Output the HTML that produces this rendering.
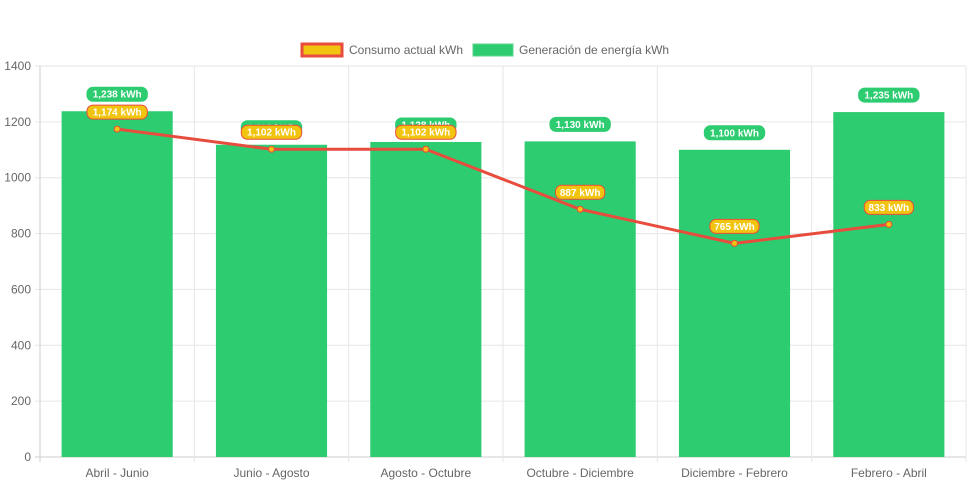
<!DOCTYPE html>
<html><head><meta charset="utf-8"><style>
body{margin:0;background:#fff;font-family:"Liberation Sans",Arial,sans-serif;}
svg{display:block}
</style></head><body>
<svg id="chart" width="971" height="485" xmlns="http://www.w3.org/2000/svg">
<g>
<g>
<rect x="302" y="44" width="40" height="12" fill="#f1c40f" stroke="#e74c3c" stroke-width="3"/>
<text x="349" y="54" font-size="12" fill="#666">Consumo actual kWh</text></g>
<g>
<rect x="473" y="44" width="40" height="12" fill="#2ecc71" stroke="#58d68d" stroke-width="1"/>
<text x="519" y="54" font-size="12" fill="#666">Generación de energía kWh</text></g>
</g>
<g id="grid"></g><g id="bars"></g><g id="line"></g><g id="labels"></g>
</svg>
<script>
const categories=["Abril - Junio","Junio - Agosto","Agosto - Octubre","Octubre - Diciembre","Diciembre - Febrero","Febrero - Abril"];
const generacion=[1238,1118,1128,1130,1100,1235];
const consumo=[1174,1102,1102,887,765,833];
const yTicks=[0,200,400,600,800,1000,1200,1400];
const NS="http://www.w3.org/2000/svg";
const L=40,R=966,T=66,B=457,YMAX=1400;
const cw=(R-L)/categories.length;
const y=v=>B-(v/YMAX)*(B-T);
const xc=i=>L+cw*(i+0.5);
function mk(t,a,p){const e=document.createElementNS(NS,t);for(const k in a)e.setAttribute(k,a[k]);p.appendChild(e);return e;}
const grid=document.getElementById('grid');
yTicks.forEach(v=>{
 mk('line',{x1:L-5,x2:R,y1:y(v),y2:y(v),stroke:v===0?'#ccc':'#e6e6e6','stroke-width':1},grid);
 const t=mk('text',{x:L-9,y:y(v)+4,'text-anchor':'end','font-size':12,fill:'#666'},grid);t.textContent=v;
 
 
});
for(let i=0;i<=categories.length;i++){
 mk('line',{x1:L+cw*i,x2:L+cw*i,y1:T,y2:B+5,stroke:i===0?'#ccc':'#e6e6e6'},grid);
}
categories.forEach((c,i)=>{
 const t=mk('text',{x:xc(i),y:B+20,'text-anchor':'middle','font-size':12,fill:'#666'},grid);t.textContent=c;
 
 
});
const bars=document.getElementById('bars');
const bw=cw*0.72;
generacion.forEach((v,i)=>{
 const r=mk('rect',{x:xc(i)-bw/2,y:y(v),width:bw,height:B-y(v),fill:'#2ecc71'},bars);
 
 
});
const line=document.getElementById('line');
const p=mk('polyline',{points:consumo.map((v,i)=>xc(i)+','+y(v)).join(' '),fill:'none',stroke:'#e74c3c','stroke-width':3},line);


consumo.forEach((v,i)=>{
 const c=mk('circle',{cx:xc(i),cy:y(v),r:3,fill:'#f1c40f',stroke:'#e74c3c','stroke-width':1},line);
 
 
});
const labels=document.getElementById('labels');
function lab(cx,cy,txt,fill,stroke){
 const g=mk('g',{},labels);
 
 
 const w=txt.length*5.6+10;
 mk('rect',{x:cx-w/2,y:cy-7,width:w,height:14,rx:6,fill:fill,stroke:stroke,'stroke-width':1},g);
 const t=mk('text',{x:cx,y:cy+3.5,'text-anchor':'middle','font-size':10,'font-weight':'bold',fill:'#fff'},g);t.textContent=txt;
}
generacion.forEach((v,i)=>lab(xc(i),y(v)-17,v.toLocaleString('en-US')+' kWh','#2ecc71','#2ecc71'));
consumo.forEach((v,i)=>lab(xc(i),y(v)-17,v.toLocaleString('en-US')+' kWh','#f1c40f','#e74c3c'));
</script>
</body></html>
